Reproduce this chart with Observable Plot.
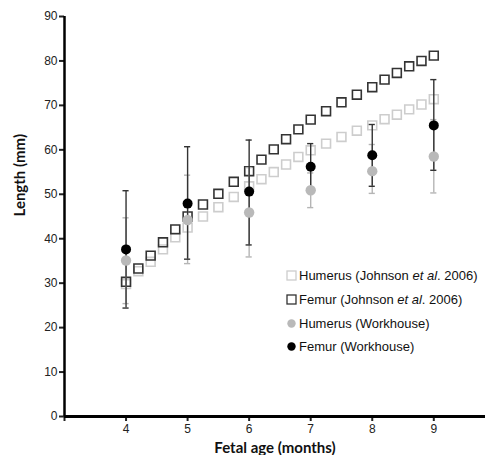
<!DOCTYPE html>
<html>
<head>
<meta charset="utf-8">
<script src="https://cdn.jsdelivr.net/npm/d3@7"></script>
<script src="https://cdn.jsdelivr.net/npm/@observablehq/plot@0.6"></script>
<style>
  body { margin: 0; background: #fff; }
  #wrap { position: relative; width: 485px; height: 455px; }
  #legend { position: absolute; left: 285px; top: 264px; font-family: "Liberation Sans", Arial, sans-serif; font-size: 13px; color: #111; }
  #legend .row { display: flex; align-items: center; height: 23.7px; }
  #legend .mk { width: 12px; display: flex; justify-content: center; margin-right: 2px; }
  #legend svg { display: block; }
</style>
</head>
<body>
<div id="wrap"><div id="legend"></div></div>
<script>
// Johnson et al. 2006 reference curves (fetal age in months)
const johnsonAge = [4, 4.2, 4.4, 4.6, 4.8, 5, 5.25, 5.5, 5.75, 6, 6.2, 6.4, 6.6, 6.8, 7, 7.25, 7.5, 7.75, 8, 8.2, 8.4, 8.6, 8.8, 9];
const johnsonFemur = [30.3, 33.3, 36.2, 39.2, 42.1, 45.0, 47.7, 50.1, 52.8, 55.2, 57.8, 60.1, 62.4, 64.6, 66.8, 68.7, 70.7, 72.4, 74.1, 75.8, 77.3, 78.8, 80.0, 81.2];
const johnsonHumerus = [29.8, 32.7, 34.8, 37.6, 40.3, 42.5, 45.0, 47.1, 49.4, 51.8, 53.4, 55.0, 56.7, 58.4, 59.9, 61.4, 62.9, 64.3, 65.5, 66.9, 67.9, 69.1, 70.2, 71.4];

// Workhouse sample
const workAge = [4, 5, 6, 7, 8, 9];
const femurMean = [37.6, 47.9, 50.6, 56.2, 58.8, 65.5];
const femurLow = [24.4, 35.4, 38.6, 51.2, 51.8, 55.4];
const femurHigh = [50.8, 60.7, 62.2, 61.4, 65.7, 75.8];
const humerusMean = [35.1, 44.2, 45.9, 50.9, 55.2, 58.5];
const humerusLow = [25.4, 34.4, 35.9, 47.0, 50.2, 50.3];
const humerusHigh = [44.7, 54.3, 56.0, 54.8, 61.2, 66.8];

const xTicks = [3, 4, 5, 6, 7, 8, 9];
const yTicks = [0, 10, 20, 30, 40, 50, 60, 70, 80, 90];
const xTitle = "Fetal age (months)";
const yTitle = "Length (mm)";

const legendItems = [
  {label: "Humerus (Johnson <i>et al</i>. 2006)", kind: "square", color: "#cdcdcd"},
  {label: "Femur (Johnson <i>et al</i>. 2006)", kind: "square", color: "#333"},
  {label: "Humerus (Workhouse)", kind: "circle", color: "#b9b9b9"},
  {label: "Femur (Workhouse)", kind: "circle", color: "#000"}
];

const johnson = johnsonAge.map((a, i) => ({age: a, femur: johnsonFemur[i], humerus: johnsonHumerus[i]}));
const work = workAge.map((a, i) => ({
  age: a,
  fm: femurMean[i], fl: femurLow[i], fh: femurHigh[i],
  hm: humerusMean[i], hl: humerusLow[i], hh: humerusHigh[i]
}));

const cap = 0.05;
const font = "'Liberation Sans', Arial, sans-serif";

const chart = Plot.plot({
  width: 485,
  height: 455,
  marginLeft: 64,
  marginRight: 0,
  marginTop: 16,
  marginBottom: 39,
  style: {fontFamily: font, fontSize: "12px", color: "#222", background: "#fff"},
  x: {domain: [3, 9.84]},
  y: {domain: [0, 90]},
  marks: [
    // Johnson curves
    Plot.dot(johnson, {x: "age", y: "humerus", symbol: "square", r: 5, stroke: "#cdcdcd", strokeWidth: 1.6, fill: "none"}),
    Plot.dot(johnson, {x: "age", y: "femur", symbol: "square", r: 5, stroke: "#333", strokeWidth: 1.6, fill: "none"}),
    // humerus error bars
    Plot.ruleX(work, {x: "age", y1: "hl", y2: "hh", stroke: "#b5b5b5", strokeWidth: 1.4}),
    Plot.ruleY(work, {y: "hl", x1: d => d.age - cap, x2: d => d.age + cap, stroke: "#b5b5b5", strokeWidth: 1.4}),
    Plot.ruleY(work, {y: "hh", x1: d => d.age - cap, x2: d => d.age + cap, stroke: "#b5b5b5", strokeWidth: 1.4}),
    // femur error bars
    Plot.ruleX(work, {x: "age", y1: "fl", y2: "fh", stroke: "#333", strokeWidth: 1.4}),
    Plot.ruleY(work, {y: "fl", x1: d => d.age - cap, x2: d => d.age + cap, stroke: "#333", strokeWidth: 1.4}),
    Plot.ruleY(work, {y: "fh", x1: d => d.age - cap, x2: d => d.age + cap, stroke: "#333", strokeWidth: 1.4}),
    // means
    Plot.dot(work, {x: "age", y: "hm", r: 5.2, fill: "#b9b9b9", stroke: "none"}),
    Plot.dot(work, {x: "age", y: "fm", r: 5, fill: "#000", stroke: "none"}),
    // axes
    Plot.axisY({ticks: yTicks, tickSize: 5, tickPadding: 2, strokeWidth: 2, label: null, fontSize: 12}),
    Plot.axisX({ticks: xTicks, tickFormat: d => d === 3 ? "" : String(d), tickSize: 5, tickPadding: 3, strokeWidth: 2, label: null, fontSize: 12}),
    Plot.ruleX([3], {stroke: "#000", strokeWidth: 2.5}),
    Plot.ruleY([0], {stroke: "#000", strokeWidth: 3}),
    Plot.text([xTitle], {text: d => d, frameAnchor: "bottom", lineAnchor: "middle", dy: 32, fontFamily: "Lato", fontWeight: "bold", fontSize: 15, fill: "#111"}),
    Plot.text([yTitle], {text: d => d, frameAnchor: "left", lineAnchor: "middle", rotate: -90, dx: -44, fontFamily: "Lato", fontWeight: "bold", fontSize: 15, fill: "#111"})
  ]
});

const wrap = document.getElementById("wrap");
wrap.insertBefore(chart, wrap.firstChild);

const legend = document.getElementById("legend");
for (const it of legendItems) {
  const row = document.createElement("div");
  row.className = "row";
  const mk = document.createElement("div");
  mk.className = "mk";
  mk.innerHTML = it.kind === "square"
    ? `<svg width="11" height="11"><rect x="1" y="1" width="9" height="9" fill="none" stroke="${it.color}" stroke-width="1.3"/></svg>`
    : `<svg width="11" height="11"><circle cx="5.5" cy="5.5" r="4.2" fill="${it.color}"/></svg>`;
  const tx = document.createElement("span");
  tx.innerHTML = it.label;
  row.appendChild(mk);
  row.appendChild(tx);
  legend.appendChild(row);
}
</script>
</body>
</html>
